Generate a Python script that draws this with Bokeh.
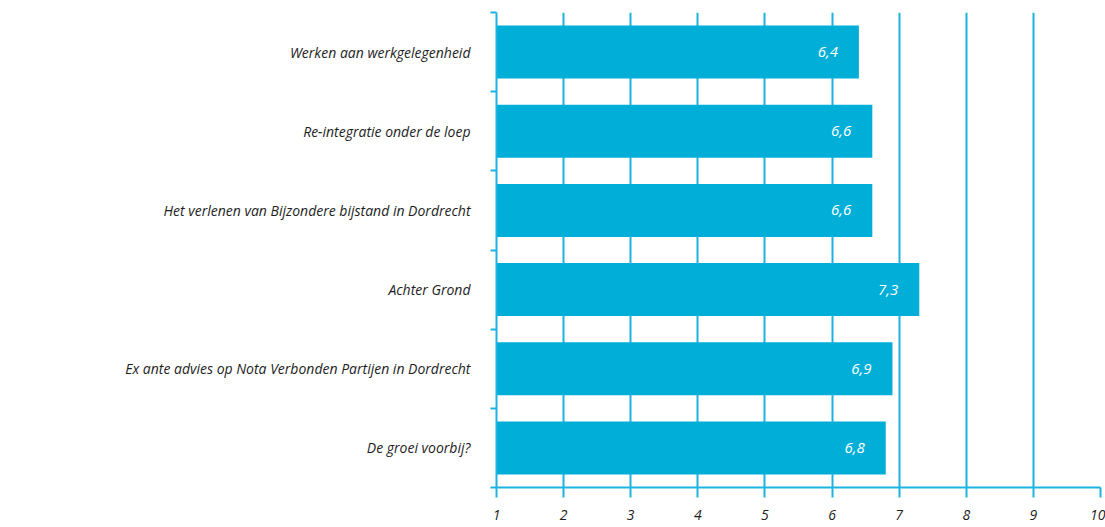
from bokeh.plotting import figure
from bokeh.models import Range1d, LinearAxis, FixedTicker, ColumnDataSource, Grid
from bokeh.core.properties import value
from bokeh.embed import file_html
from bokeh.resources import INLINE

categories = [
    "Werken aan werkgelegenheid",
    "Re-integratie onder de loep",
    "Het verlenen van Bijzondere bijstand in Dordrecht",
    "Achter Grond",
    "Ex ante advies op Nota Verbonden Partijen in Dordrecht",
    "De groei voorbij?",
]
scores = [6.4, 6.6, 6.6, 7.3, 6.9, 6.8]
x_ticks = [1, 2, 3, 4, 5, 6, 7, 8, 9, 10]

BAR = "#00AED8"
GRID = "#1DB3E0"
TEXT = "#1e1e1e"
FONT = "Open Sans"

n = len(categories)
ypos = [n - i - 0.5 for i in range(n)]  # first category on top
src = ColumnDataSource(dict(
    y=ypos,
    score=scores,
    label=[("%.1f" % s).replace(".", ",") for s in scores],
))

p = figure(
    width=1105, height=527,
    y_range=Range1d(0, n),
    x_range=Range1d(1, 10),
    output_backend="svg", toolbar_location=None,
    x_axis_location=None, y_axis_location=None,
    min_border_left=496, min_border_right=5, min_border_top=12, min_border_bottom=40,
)
p.outline_line_color = None
p.background_fill_color = "white"

# x axis
xa = LinearAxis(ticker=FixedTicker(ticks=x_ticks))
xa.axis_line_color = GRID
xa.axis_line_width = 2
xa.major_tick_line_color = GRID
xa.major_tick_line_width = 2
xa.major_tick_out = 10
xa.major_tick_in = 0
xa.minor_tick_line_color = None
xa.major_label_text_font = FONT
xa.major_label_text_font_style = "italic"
xa.major_label_text_font_size = "14px"
xa.major_label_text_color = TEXT
xa.major_label_standoff = 12
xa.axis_label_standoff = 0
p.add_layout(xa, "below")

# y axis with ticks at category boundaries
ya = LinearAxis(ticker=FixedTicker(ticks=list(range(n + 1))))
ya.major_label_overrides = {i: "" for i in range(n + 1)}
ya.axis_line_color = GRID
ya.axis_line_width = 2
ya.major_tick_line_color = GRID
ya.major_tick_line_width = 2
ya.major_tick_out = 6
ya.major_tick_in = 0
ya.minor_tick_line_color = None
ya.major_label_standoff = 0
p.add_layout(ya, "left")

# category labels axis
ca = LinearAxis(ticker=FixedTicker(ticks=ypos))
ca.major_label_overrides = {y: c for y, c in zip(ypos, categories)}
ca.axis_line_color = None
ca.major_tick_line_color = None
ca.minor_tick_line_color = None
ca.major_tick_out = 0
ca.major_tick_in = 0
ca.major_label_text_font = FONT
ca.major_label_text_font_style = "italic"
ca.major_label_text_font_size = "14px"
ca.major_label_text_color = TEXT
ca.major_label_standoff = 20
p.add_layout(ca, "left")

p.xgrid.visible = False
p.ygrid.visible = False
g = Grid(dimension=0, ticker=FixedTicker(ticks=x_ticks))
g.grid_line_color = GRID
g.grid_line_width = 2
p.add_layout(g)

p.hbar(y="y", left=1, right="score", height=0.67, source=src,
       fill_color=BAR, line_color=None)
p.text(x="score", y="y", text="label", source=src, x_offset=-21,
       text_align="right", text_baseline="middle", text_color="white",
       text_font=value(FONT), text_font_style="italic", text_font_size="15px")

open("out.html", "w").write(file_html(p, INLINE))
